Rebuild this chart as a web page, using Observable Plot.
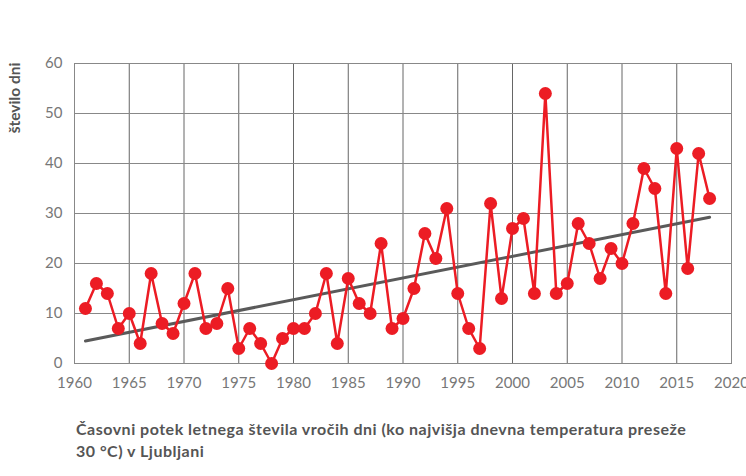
<!DOCTYPE html>
<html>
<head>
<meta charset="utf-8">
<script src="https://cdn.jsdelivr.net/npm/d3@7"></script>
<script src="https://cdn.jsdelivr.net/npm/@observablehq/plot@0.6"></script>
<style>
  body { margin: 0; background: #fff; font-family: Lato, "Open Sans", sans-serif; }
  #chart { position: relative; width: 746px; }
  .caption { margin: 18px 0 0 76px; width: 660px; font-size: 16px; letter-spacing: 0.5px; font-weight: 700; color: #555; line-height: 22px; white-space: nowrap; }
</style>
</head>
<body>
<div id="chart"></div>
<div class="caption">Časovni potek letnega števila vročih dni (ko najvišja dnevna temperatura preseže<br>30 °C) v Ljubljani</div>
<script>
const years = d3.range(1961, 2019);
const hotDays = [
  11, 16, 14, 7, 10, 4, 18, 8, 6, 12,
  18, 7, 8, 15, 3, 7, 4, 0, 5, 7,
  7, 10, 18, 4, 17, 12, 10, 24, 7, 9,
  15, 26, 21, 31, 14, 7, 3, 32, 13, 27,
  29, 14, 54, 14, 16, 28, 24, 17, 23, 20,
  28, 39, 35, 14, 43, 19, 42, 33
];
const xTicks = d3.range(1960, 2021, 5);
const yTicks = [0, 10, 20, 30, 40, 50, 60];
const yLabel = "število dni";

const data = years.map((y, i) => ({year: y, value: hotDays[i]}));

const plot = Plot.plot({
  width: 746,
  height: 400,
  marginTop: 63,
  marginBottom: 37,
  marginLeft: 74,
  marginRight: 15,
  style: {fontFamily: "Lato, 'Open Sans', sans-serif", fontSize: "15px", color: "#777", background: "#fff", overflow: "visible"},
  x: {domain: [1960, 2020], ticks: xTicks, tickFormat: d => String(d), tickSize: 0, tickPadding: 14, label: null},
  y: {domain: [0, 60], ticks: yTicks, tickSize: 0, tickPadding: 12, label: null},
  marks: [
    Plot.gridX(xTicks, {stroke: "#666", strokeOpacity: 1, strokeWidth: 1}),
    Plot.gridY(yTicks, {stroke: "#888", strokeOpacity: 1, strokeWidth: 1}),
    Plot.frame({stroke: "#888", strokeWidth: 1}),
    Plot.axisX({ticks: xTicks, tickFormat: d => String(d), tickSize: 0, tickPadding: 14, fill: "#777", fontSize: 15, label: null}),
    Plot.axisY({ticks: yTicks, tickSize: 0, tickPadding: 12, fill: "#777", fontSize: 15, label: null}),
    Plot.linearRegressionY(data, {x: "year", y: "value", ci: 0, stroke: "#5a5a5a", strokeWidth: 3}),
    Plot.line(data, {x: "year", y: "value", stroke: "#ec1c24", strokeWidth: 2.5}),
    Plot.dot(data, {x: "year", y: "value", r: 6.5, fill: "#ec1c24", stroke: "none"})
  ]
});
document.getElementById("chart").appendChild(plot);

d3.select(plot).append("text")
  .attr("transform", "translate(20,98) rotate(-90)")
  .attr("text-anchor", "middle")
  .attr("font-family", "Lato, 'Open Sans', sans-serif")
  .attr("font-size", 15.5)
  .attr("font-weight", 700)
  .attr("fill", "#555")
  .text(yLabel);
</script>
</body>
</html>
